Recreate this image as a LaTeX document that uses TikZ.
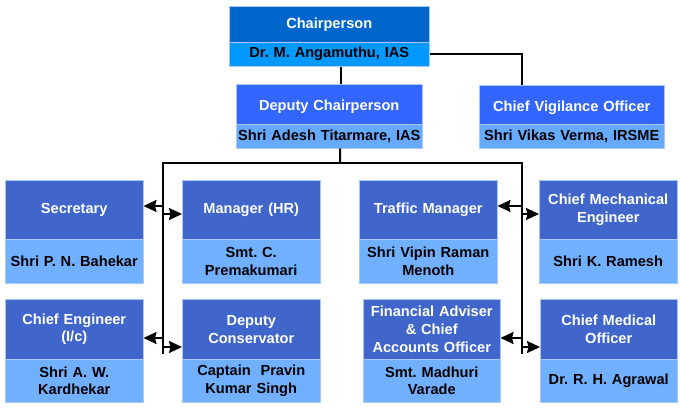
\documentclass[tikz,border=0pt]{standalone}
\usepackage{fontspec}
\setmainfont{Liberation Sans}
\usetikzlibrary{arrows.meta,calc}
\definecolor{chairT}{RGB}{0,102,204}
\definecolor{chairN}{RGB}{0,153,255}
\definecolor{midT}{RGB}{51,102,255}
\definecolor{midN}{RGB}{102,170,255}
\definecolor{lowT}{RGB}{64,102,204}
\definecolor{lowN}{RGB}{112,176,255}
\definecolor{edge}{RGB}{170,200,245}
\tikzset{
  box/.style={anchor=north west, inner sep=0pt, align=center,
    font=\fontsize{14.6}{17.8}\selectfont\bfseries\frenchspacing, draw=edge, line width=0.5pt},
  ttl/.style={box, fill=lowT, text=white},
  nm/.style={box, fill=lowN, text=black},
  link/.style={line width=2pt, line join=miter},
  arr/.style={link, -{Stealth[length=13pt,width=12pt,inset=1.5pt]}}
}
\begin{document}
\begin{tikzpicture}[x=1pt,y=-1pt]
\useasboundingbox (0,0) rectangle (680,407);
% top
\node[box, fill=chairT, text=white, minimum width=200pt, minimum height=36pt, text width=196pt] (ch) at (229,6) {Chairperson};
\node[box, fill=chairN, text=black, minimum width=200pt, minimum height=24pt, text width=196pt] (chn) at (229,42) {Dr. M. Angamuthu, IAS};
\node[box, fill=midT, text=white, minimum width=186pt, minimum height=40pt, text width=184pt] (dep) at (236,84) {\raisebox{-3pt}[10pt][3pt]{Deputy Chairperson}};
\node[box, fill=midN, text=black, minimum width=186pt, minimum height=24pt, text width=184pt] (depn) at (236,124) {Shri Adesh Titarmare, IAS};
\node[box, fill=midT, text=white, minimum width=185pt, minimum height=39pt, text width=181pt] (cvo) at (479,85) {\raisebox{-3pt}[10pt][3pt]{Chief Vigilance Officer}};
\node[box, fill=midN, text=black, minimum width=185pt, minimum height=24pt, text width=181pt] (cvon) at (479,124) {Shri Vikas Verma, IRSME};
% row 1
\node[ttl, minimum width=138pt, minimum height=59pt, text width=134pt] (sec) at (5,180) {Secretary};
\node[nm, minimum width=138pt, minimum height=44pt, text width=134pt] (secn) at (5,239) {Shri P. N. Bahekar};
\node[ttl, minimum width=138pt, minimum height=59pt, text width=134pt] (mhr) at (182,180) {Manager (HR)};
\node[nm, minimum width=138pt, minimum height=44pt, text width=134pt] (mhrn) at (182,239) {Smt. C.\\Premakumari};
\node[ttl, minimum width=138pt, minimum height=59pt, text width=134pt] (tm) at (359,180) {Traffic Manager};
\node[nm, minimum width=138pt, minimum height=44pt, text width=134pt] (tmn) at (359,239) {Shri Vipin Raman\\Menoth};
\node[ttl, minimum width=138pt, minimum height=59pt, text width=134pt] (cme) at (539,180) {Chief Mechanical\\Engineer};
\node[nm, minimum width=138pt, minimum height=44pt, text width=134pt] (cmen) at (539,239) {Shri K. Ramesh};
% row 2
\node[ttl, minimum width=138pt, minimum height=60pt, text width=134pt] (ce) at (5,299) {Chief Engineer\\(I/c)};
\node[nm, minimum width=138pt, minimum height=43pt, text width=134pt] (cen) at (5,359) {Shri A. W.\\Kardhekar};
\node[ttl, minimum width=138pt, minimum height=60pt, text width=134pt] (dc) at (182,299) {Deputy\\Conservator};
\node[nm, minimum width=138pt, minimum height=43pt, text width=134pt] (dcn) at (182,359) {Captain\ \ Pravin\\Kumar Singh};
\node[ttl, minimum width=137pt, minimum height=60pt, text width=135pt] (fa) at (363,299) {Financial Adviser\\\& Chief\\Accounts Officer};
\node[nm, minimum width=137pt, minimum height=43pt, text width=135pt] (fan) at (363,359) {Smt. Madhuri\\Varade};
\node[ttl, minimum width=137pt, minimum height=60pt, text width=134pt] (cmo) at (540,299) {Chief Medical\\Officer};
\node[nm, minimum width=137pt, minimum height=43pt, text width=134pt] (cmon) at (540,359) {Dr. R. H. Agrawal};
% connectors
\draw[link] ($(chn.south)+(12,0)$) -- ($(dep.north)+(12,0)$);
\draw[link] (chn.east) -| ($(cvo.north)+(-50,0)$);
\coordinate (busTop) at (340,163);
\coordinate (busL) at (163,163);
\coordinate (busR) at (522,163);
\coordinate (busLend) at (163,354);
\coordinate (busRend) at (522,354);
\draw[link] ($(depn.south)+(11,0)$) -- (busTop);
\draw[link] (busLend) -- (busL) -- (busR) -- (busRend);
% arrows
\coordinate (l1a) at (163,206); \coordinate (l1b) at (163,214);
\coordinate (l2a) at (163,338); \coordinate (l2b) at (163,347);
\coordinate (r1a) at (522,206); \coordinate (r1b) at (522,214);
\coordinate (r2a) at (522,338); \coordinate (r2b) at (522,347);
\draw[arr] (l1a) -- (l1a -| sec.east);
\draw[arr] (l1b) -- (l1b -| mhr.west);
\draw[arr] (l2a) -- (l2a -| ce.east);
\draw[arr] (l2b) -- (l2b -| dc.west);
\draw[arr] (r1a) -- (r1a -| tm.east);
\draw[arr] (r1b) -- (r1b -| cme.west);
\draw[arr] (r2a) -- (r2a -| fa.east);
\draw[arr] (r2b) -- (r2b -| cmo.west);
\end{tikzpicture}
\end{document}
